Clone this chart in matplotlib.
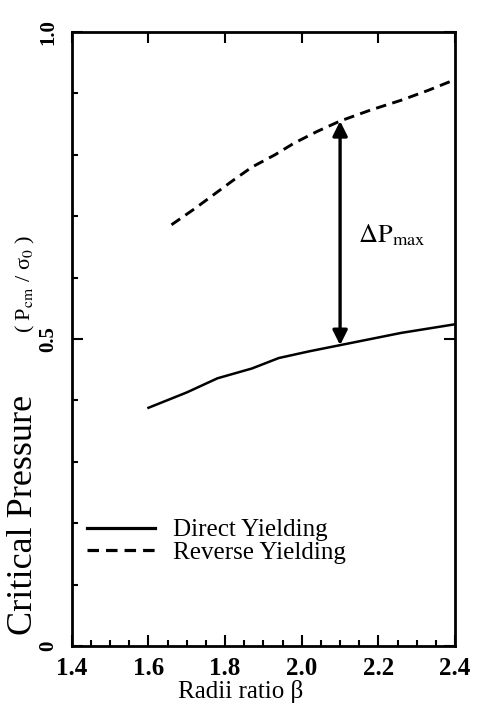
import numpy as np
import matplotlib
matplotlib.use('Agg')
import matplotlib.pyplot as plt
from matplotlib.ticker import MultipleLocator

# values
direct_x = [1.60, 1.70, 1.78, 1.87, 1.94, 2.02, 2.10, 2.18, 2.26, 2.33, 2.40]
direct_y = [0.388, 0.413, 0.436, 0.452, 0.469, 0.480, 0.490, 0.500, 0.510, 0.517, 0.524]

reverse_x = [1.66, 1.72, 1.77, 1.82, 1.87, 1.93, 1.98, 2.04, 2.10, 2.18, 2.26, 2.33, 2.39]
reverse_y = [0.686, 0.712, 0.735, 0.758, 0.780, 0.800, 0.819, 0.838, 0.855, 0.873, 0.889, 0.905, 0.920]

legend_labels = ['Direct Yielding', 'Reverse Yielding']
xtick_vals = [1.4, 1.6, 1.8, 2.0, 2.2, 2.4]
xtick_labels = ['1.4', '1.6', '1.8', '2.0', '2.2', '2.4']
ytick_vals = [0, 0.5, 1.0]
ytick_labels = ['0', '0.5', '1.0']
arrow_x = 2.1

plt.rcParams['font.family'] = ['Liberation Serif', 'DejaVu Serif']
plt.rcParams['mathtext.fontset'] = 'stix'

fig = plt.figure(figsize=(4.79, 7.05), dpi=100)
ax = fig.add_axes([0.150, 0.0837, 0.800, 0.8709])

ax.plot(direct_x, direct_y, color='k', lw=1.8, label=legend_labels[0])
ax.plot(reverse_x, reverse_y, color='k', lw=2.1, dashes=(3.6, 2.2), label=legend_labels[1])

# double arrow between the two curves
y_lo = np.interp(arrow_x, direct_x, direct_y)
y_hi = np.interp(arrow_x, reverse_x, reverse_y)
ax.annotate('', xy=(arrow_x, y_hi), xytext=(arrow_x, y_lo),
            arrowprops=dict(arrowstyle='<|-|>', color='k', lw=2.4,
                            mutation_scale=22, shrinkA=0, shrinkB=0))
ax.text(2.147, 0.669, r'$\Delta\mathrm{P}_{\mathrm{max}}$', fontsize=19,
        ha='left', va='center')

ax.set_xlim(1.4, 2.4)
ax.set_ylim(0, 1.0)
ax.set_xticks(xtick_vals)
ax.set_xticklabels(xtick_labels, fontweight='bold', fontsize=18)
ax.set_yticks(ytick_vals)
ax.set_yticklabels(ytick_labels, fontweight='bold', fontsize=15)
ax.xaxis.set_minor_locator(MultipleLocator(0.05))
ax.yaxis.set_minor_locator(MultipleLocator(0.1))

ax.tick_params(which='both', direction='in', top=True, right=True, width=1.5)
ax.tick_params(which='major', length=8)
ax.tick_params(which='minor', length=4, top=False, right=False)
ax.tick_params(axis='x', pad=8)
ax.tick_params(axis='y', pad=10, labelrotation=90)
for lab in ax.get_yticklabels():
    lab.set_va('center')

for sp in ax.spines.values():
    sp.set_linewidth(2)

ax.set_xlabel('Radii ratio β', fontsize=18)
ax.xaxis.set_label_coords(0.441, -0.056)

ax.text(-0.125, 0.213, 'Critical Pressure', transform=ax.transAxes,
        rotation=90, fontsize=26, ha='center', va='center')
ax.text(-0.120, 0.590, r'( P$_{\mathrm{cm}}$ / σ$_0$ )', transform=ax.transAxes,
        rotation=90, fontsize=16, ha='center', va='center')

leg = ax.legend(loc='upper left', bbox_to_anchor=(0.04, 0.207), frameon=False,
                fontsize=18, handlelength=2.7, handletextpad=0.75, labelspacing=0.0,
                borderpad=0, borderaxespad=0)
for h in leg.get_lines():
    h.set_linewidth(2.3)

fig.savefig('out.png', dpi=100)
